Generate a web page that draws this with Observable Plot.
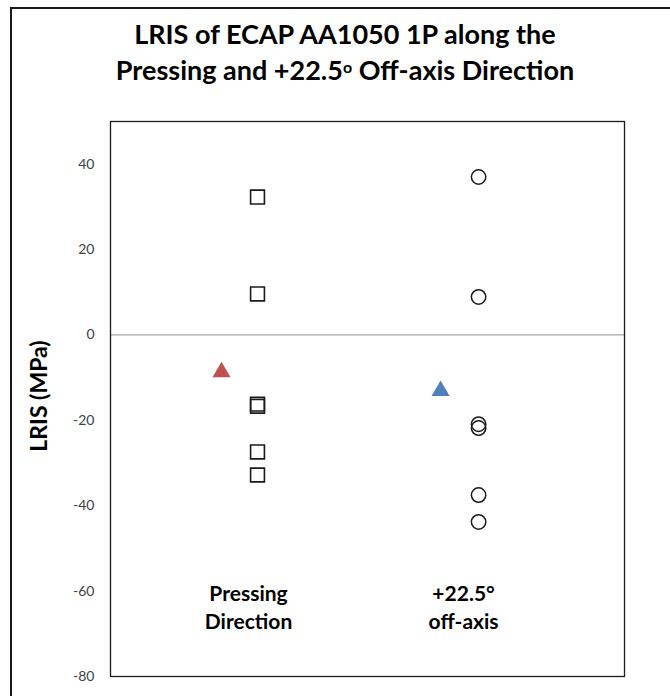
<!DOCTYPE html>
<html><head><meta charset="utf-8">
<script src="https://cdn.jsdelivr.net/npm/d3@7"></script>
<script src="https://cdn.jsdelivr.net/npm/@observablehq/plot@0.6"></script>
<style>
html,body{margin:0;padding:0;background:#fff;overflow:hidden;width:670px;height:696px;}
#frame{position:absolute;left:10px;top:7px;width:720px;height:760px;border:2px solid #1a1a1a;box-sizing:border-box;}
#title{position:absolute;left:0;top:16px;width:690px;text-align:center;font:bold 27px Lato, "Open Sans", sans-serif;line-height:36px;color:#000;}
#title sup{font-size:16px;vertical-align:top;position:relative;top:-3px;}
#chart{position:absolute;left:0;top:100px;}
</style></head>
<body>
<div id="frame"></div>
<div id="title">LRIS of ECAP AA1050 1P along the<br>Pressing and +22.5<sup>o</sup> Off-axis Direction</div>
<div id="chart"></div>
<script>
const categories = ["Pressing\nDirection", "+22.5°\noff-axis"];
const pressing = [32.3, 9.6, -16.2, -16.7, -27.4, -32.8];
const offAxis = [37.0, 8.9, -20.9, -21.8, -37.5, -43.8];
const means = [-8.7, -13.1];
const yTicks = [-80, -60, -40, -20, 0, 20, 40];

const sq = pressing.map(v => ({x: 1, y: v}));
const ci = offAxis.map(v => ({x: 2, y: v}));
const mn = means.map((v, i) => ({x: i + 1, y: v, c: i}));
const labs = categories.map((t, i) => ({x: i + 1, y: -63.4, t, c: i}));

const plot = Plot.plot({
  width: 670, height: 596,
  marginLeft: 110, marginRight: 46, marginTop: 21, marginBottom: 20,
  style: {fontFamily: "Lato, 'Open Sans', sans-serif", background: "transparent"},
  x: {domain: [0.335, 2.66], axis: null},
  y: {domain: [-80, 50], axis: null},
  marks: [
    Plot.axisY({ticks: yTicks, tickSize: 0, tickPadding: 16, fontSize: 14, color: "#404040", label: null, tickFormat: d => String(d)}),
    Plot.ruleY([0], {stroke: "#a6a6a6", strokeWidth: 1.2}),
    Plot.frame({stroke: "#1a1a1a", strokeWidth: 1.3}),
    Plot.dot(sq, {x: "x", y: "y", symbol: "square", r: 7.8, stroke: "#1a1a1a", strokeWidth: 1.6, fill: "none"}),
    Plot.dot(ci, {x: "x", y: "y", symbol: "circle", r: 7.2, stroke: "#1a1a1a", strokeWidth: 1.5, fill: "none"}),
    Plot.dot(mn.filter(d => d.c === 0), {x: "x", y: "y", dx: -36, symbol: "triangle2", r: 8.6, fill: "#C0504D", stroke: "none"}),
    Plot.dot(mn.filter(d => d.c === 1), {x: "x", y: "y", dx: -38, symbol: "triangle2", r: 8.6, fill: "#4F81BD", stroke: "none"}),
    Plot.text(labs.filter(d => d.c === 0), {x: "x", y: "y", text: "t", dx: -9, fontSize: 21, fontWeight: "bold", fill: "#000", lineHeight: 1.33, lineAnchor: "middle"}),
    Plot.text(labs.filter(d => d.c === 1), {x: "x", y: "y", text: "t", dx: -15, fontSize: 21, fontWeight: "bold", fill: "#000", lineHeight: 1.33, lineAnchor: "middle"})
  ]
});
document.getElementById("chart").appendChild(plot);
const svg = d3.select(plot);
svg.append("text").attr("transform", "translate(41,296) rotate(-90)").attr("text-anchor", "middle")
  .attr("dominant-baseline", "middle").style("font", "bold 23px Lato, 'Open Sans', sans-serif").text("LRIS (MPa)");
</script>
</body></html>
